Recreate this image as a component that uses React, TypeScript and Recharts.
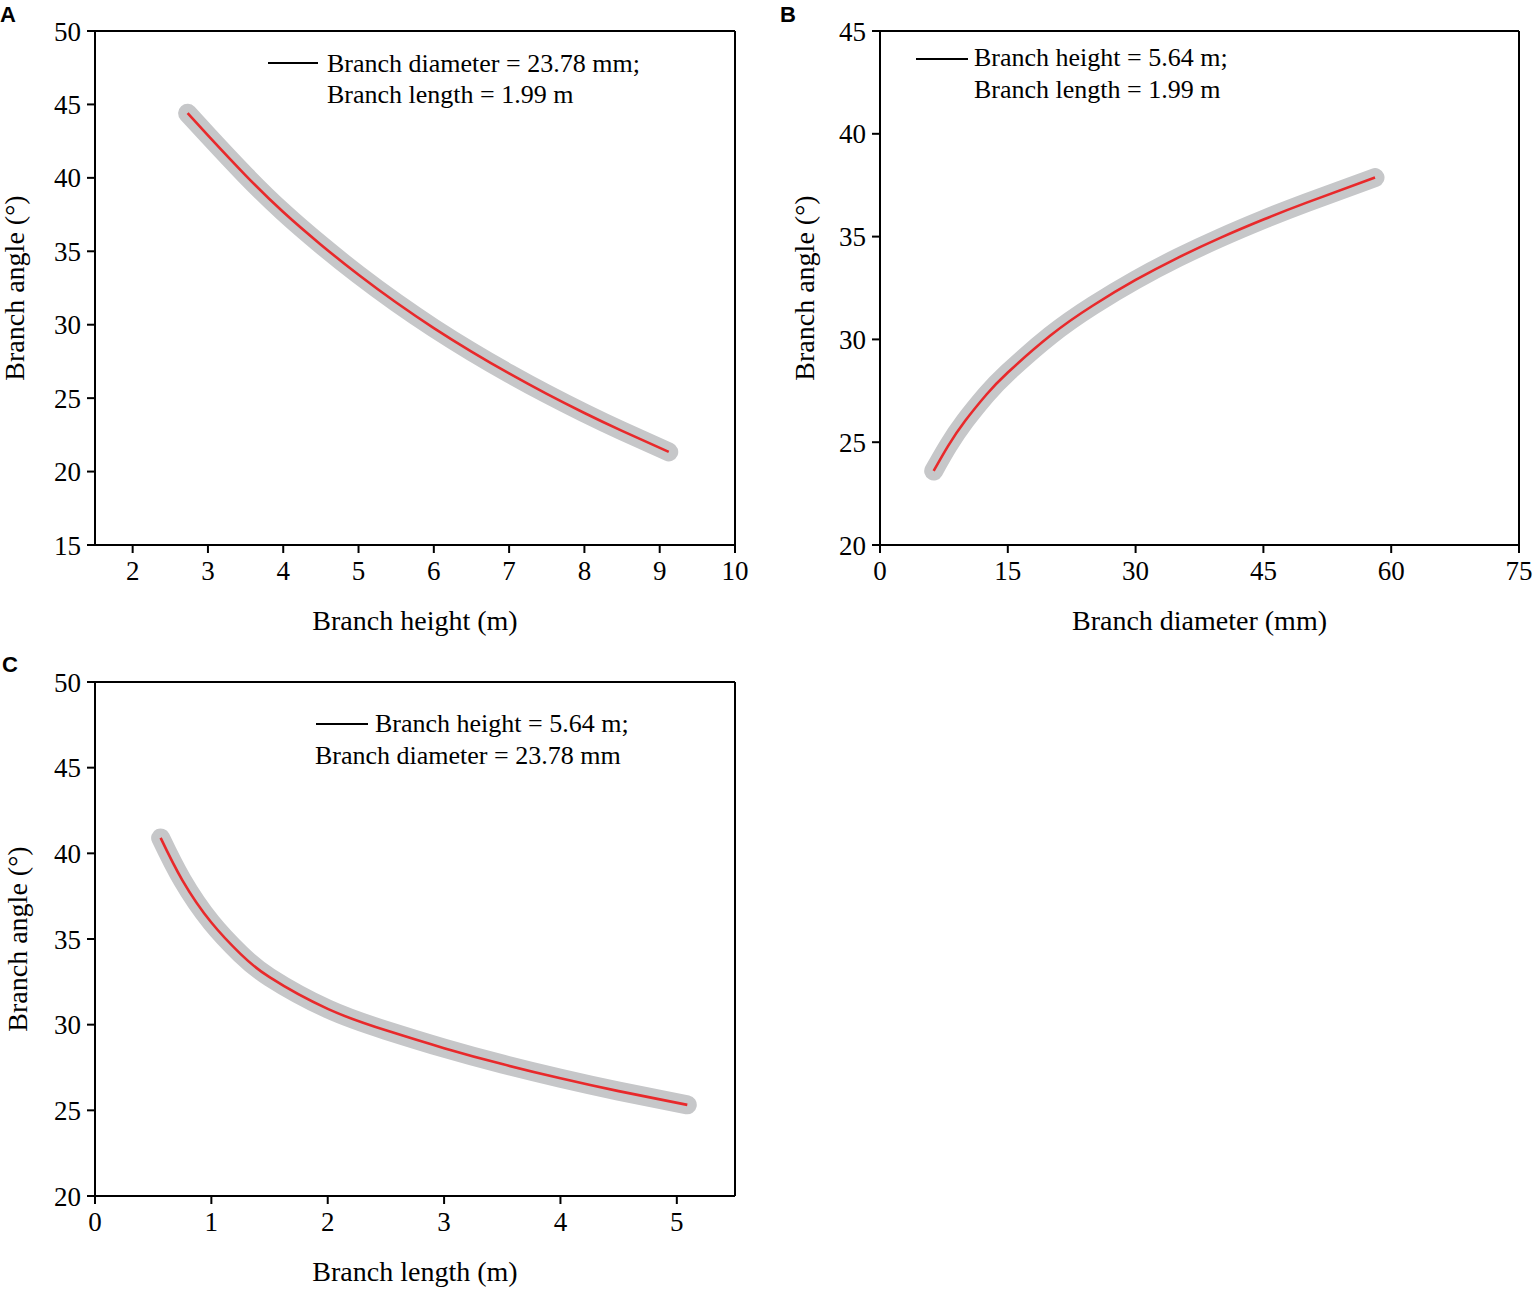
import React from 'react';
import { ComposedChart, Line, XAxis, YAxis, ReferenceLine, Legend, Label } from 'recharts';

// A: branch angle vs branch height
const heightX = [2.73, 3.0, 3.5, 4.0, 4.5, 5.0, 5.5, 6.0, 6.5, 7.0, 7.5, 8.0, 8.5, 9.12];
const heightAngle = [44.4, 42.89, 40.17, 37.67, 35.45, 33.4, 31.51, 29.77, 28.17, 26.68, 25.29, 23.99, 22.77, 21.34];
const heightTicksX = [2, 3, 4, 5, 6, 7, 8, 9, 10];
const heightTicksY = [15, 20, 25, 30, 35, 40, 45, 50];

// B: branch angle vs branch diameter
const diamX = [6.3, 8, 10, 12.5, 15, 20, 25, 30, 35, 40, 45, 50, 58.1];
const diamAngle = [23.6, 24.82, 26.04, 27.32, 28.39, 30.19, 31.65, 32.89, 33.98, 34.95, 35.83, 36.64, 37.87];
const diamTicksX = [0, 15, 30, 45, 60, 75];
const diamTicksY = [20, 25, 30, 35, 40, 45];

// C: branch angle vs branch length
const lengthX = [0.564, 0.75, 1.0, 1.25, 1.5, 2.0, 2.5, 3.0, 3.5, 4.0, 4.5, 5.09];
const lengthAngle = [40.9, 38.44, 35.96, 34.13, 32.77, 30.92, 29.67, 28.63, 27.7, 26.87, 26.12, 25.32];
const lengthTicksX = [0, 1, 2, 3, 4, 5];
const lengthTicksY = [20, 25, 30, 35, 40, 45, 50];

const legendA = ['Branch diameter = 23.78 mm;', 'Branch length = 1.99 m'];
const legendB = ['Branch height = 5.64 m;', 'Branch length = 1.99 m'];
const legendC = ['Branch height = 5.64 m;', 'Branch diameter = 23.78 mm'];

const SERIF = '"Liberation Serif", "Times New Roman", serif';
const GRAY = '#c6c7c9';
const RED = '#e8292b';

const toRows = (xs: number[], ys: number[]) => xs.map((x, i) => ({ x, y: ys[i] }));

const tickStyle = { fontFamily: SERIF, fontSize: 27, fill: '#000' };

function Panel(props: any) {
  const {
    data, xDomain, xTicks, yDomain, yTicks, xTitle, yTitle, yTitleX,
    legend, lg, width, height, yAxisWidth, xAxisHeight, marginRight,
  } = props;

  const renderX = (p: any) => {
    const vb = p.viewBox || {};
    const cx = vb.x + vb.width / 2;
    return (
      <text x={cx} y={vb.y + 85} textAnchor="middle" fontFamily={SERIF} fontSize={28} fill="#000">
        {xTitle}
      </text>
    );
  };

  const renderY = (p: any) => {
    const vb = p.viewBox || {};
    const cy = (vb.y ?? 31) + (vb.height ?? 514) / 2;
    return (
      <text
        x={yTitleX}
        y={cy}
        transform={`rotate(-90 ${yTitleX} ${cy})`}
        textAnchor="middle"
        fontFamily={SERIF}
        fontSize={28}
        fill="#000"
      >
        {yTitle}
      </text>
    );
  };

  const renderLegend = () => (
    <svg width={460} height={90} style={{ overflow: 'visible', display: 'block' }}>
      <line x1={lg.lx1} x2={lg.lx2} y1={lg.ly} y2={lg.ly} stroke="#000" strokeWidth={1.8} />
      <text x={lg.t1x} y={lg.t1y} fontFamily={SERIF} fontSize={26} fill="#000">{legend[0]}</text>
      <text x={lg.t2x} y={lg.t2y} fontFamily={SERIF} fontSize={26} fill="#000">{legend[1]}</text>
    </svg>
  );

  return (
    <ComposedChart
      width={width}
      height={height}
      data={data}
      margin={{ top: 31, right: marginRight, left: 0, bottom: height - 545 - xAxisHeight }}
    >
      <XAxis
        type="number"
        dataKey="x"
        domain={xDomain}
        ticks={xTicks}
        interval={0}
        height={xAxisHeight}
        tick={tickStyle}
        tickSize={8}
        tickMargin={8}
        axisLine={{ stroke: '#000', strokeWidth: 2 }}
        tickLine={{ stroke: '#000', strokeWidth: 2 }}
      >
        <Label content={renderX} />
      </XAxis>
      <YAxis
        type="number"
        domain={yDomain}
        ticks={yTicks}
        interval={0}
        width={yAxisWidth}
        tick={tickStyle}
        tickSize={8}
        tickMargin={6}
        axisLine={{ stroke: '#000', strokeWidth: 2 }}
        tickLine={{ stroke: '#000', strokeWidth: 2 }}
      >
        <Label content={renderY} />
      </YAxis>
      <ReferenceLine y={yDomain[1]} stroke="#000" strokeWidth={2} />
      <ReferenceLine x={xDomain[1]} stroke="#000" strokeWidth={2} />
      <Line
        type="natural"
        dataKey="y"
        stroke={GRAY}
        strokeWidth={19}
        strokeLinecap="round"
        strokeLinejoin="round"
        dot={false}
        activeDot={false}
        legendType="none"
        isAnimationActive={false}
      />
      <Line
        type="natural"
        dataKey="y"
        stroke={RED}
        strokeWidth={2.6}
        dot={false}
        activeDot={false}
        legendType="none"
        isAnimationActive={false}
      />
      <Legend
        layout="vertical"
        verticalAlign="middle"
        align="center"
        content={renderLegend}
        wrapperStyle={{ left: lg.left, top: lg.top, width: 460, height: 90, margin: 0 }}
      />
    </ComposedChart>
  );
}

const letterStyle: React.CSSProperties = {
  position: 'absolute',
  fontFamily: '"Liberation Sans", Arial, sans-serif',
  fontWeight: 700,
  fontSize: 22,
  lineHeight: 1,
};

export default function App() {
  return (
    <div style={{ position: 'absolute', left: 0, top: 0, width: 1535, height: 1290, overflow: 'hidden', background: '#fff' }}>
      <div style={{ position: 'absolute', left: 0, top: 0 }}>
        <Panel
          data={toRows(heightX, heightAngle)}
          xDomain={[1.5, 10]}
          xTicks={heightTicksX}
          yDomain={[15, 50]}
          yTicks={heightTicksY}
          xTitle="Branch height (m)"
          yTitle="Branch angle (°)"
          yTitleX={24}
          legend={legendA}
          lg={{ left: 262, top: 40, lx1: 6, lx2: 56, ly: 23, t1x: 65, t1y: 32, t2x: 65, t2y: 63 }}
          width={760}
          height={650}
          yAxisWidth={95}
          xAxisHeight={100}
          marginRight={25}
        />
      </div>
      <div style={{ position: 'absolute', left: 780, top: 0 }}>
        <Panel
          data={toRows(diamX, diamAngle)}
          xDomain={[0, 75]}
          xTicks={diamTicksX}
          yDomain={[20, 45]}
          yTicks={diamTicksY}
          xTitle="Branch diameter (mm)"
          yTitle="Branch angle (°)"
          yTitleX={34}
          legend={legendB}
          lg={{ left: 130, top: 40, lx1: 6, lx2: 58, ly: 19, t1x: 64, t1y: 26, t2x: 64, t2y: 58 }}
          width={755}
          height={650}
          yAxisWidth={100}
          xAxisHeight={100}
          marginRight={16}
        />
      </div>
      <div style={{ position: 'absolute', left: 0, top: 651 }}>
        <Panel
          data={toRows(lengthX, lengthAngle)}
          xDomain={[0, 5.5]}
          xTicks={lengthTicksX}
          yDomain={[20, 50]}
          yTicks={lengthTicksY}
          xTitle="Branch length (m)"
          yTitle="Branch angle (°)"
          yTitleX={27}
          legend={legendC}
          lg={{ left: 310, top: 40, lx1: 6, lx2: 58, ly: 33, t1x: 65, t1y: 41, t2x: 5, t2y: 73 }}
          width={760}
          height={639}
          yAxisWidth={95}
          xAxisHeight={90}
          marginRight={25}
        />
      </div>
      <div style={{ ...letterStyle, left: 0, top: 4 }}>A</div>
      <div style={{ ...letterStyle, left: 780, top: 4 }}>B</div>
      <div style={{ ...letterStyle, left: 2, top: 654 }}>C</div>
    </div>
  );
}
